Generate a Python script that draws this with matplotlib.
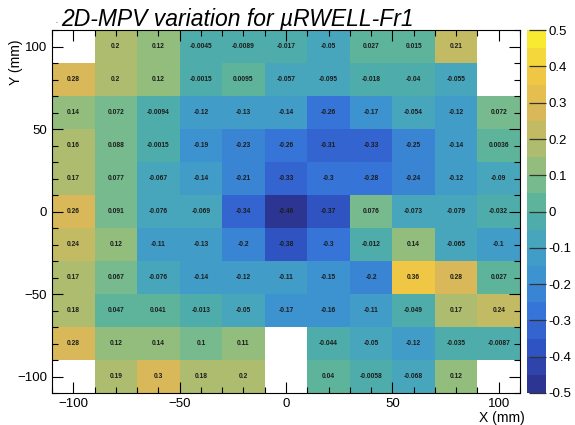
import numpy as np
import matplotlib
matplotlib.use("Agg")
import matplotlib.pyplot as plt
from matplotlib.colors import LinearSegmentedColormap, BoundaryNorm
from matplotlib.ticker import MultipleLocator

plt.rcParams["font.family"] = ["Liberation Sans", "DejaVu Sans"]

# bin centres in mm (20 mm pads)
x_centers = [-100, -80, -60, -40, -20, 0, 20, 40, 60, 80, 100]
y_centers = [100, 80, 60, 40, 20, 0, -20, -40, -60, -80, -100]

nan = np.nan
# MPV variation per pad, rows from top (y=100) to bottom (y=-100)
row_p100 = [nan, 0.2, 0.12, -0.0045, -0.0089, -0.017, -0.05, 0.027, 0.015, 0.21, nan]
row_p80 = [0.28, 0.2, 0.12, -0.0015, 0.0095, -0.057, -0.095, -0.018, -0.04, -0.055, nan]
row_p60 = [0.14, 0.072, -0.0094, -0.12, -0.13, -0.14, -0.26, -0.17, -0.054, -0.12, 0.072]
row_p40 = [0.16, 0.088, -0.0015, -0.19, -0.23, -0.26, -0.31, -0.33, -0.25, -0.14, 0.0036]
row_p20 = [0.17, 0.077, -0.067, -0.14, -0.21, -0.33, -0.3, -0.28, -0.24, -0.12, -0.09]
row_0 = [0.26, 0.091, -0.076, -0.069, -0.34, -0.46, -0.37, 0.076, -0.073, -0.079, -0.032]
row_m20 = [0.24, 0.12, -0.11, -0.13, -0.2, -0.38, -0.3, -0.012, 0.14, -0.065, -0.1]
row_m40 = [0.17, 0.067, -0.076, -0.14, -0.12, -0.11, -0.15, -0.2, 0.36, 0.28, 0.027]
row_m60 = [0.18, 0.047, 0.041, -0.013, -0.05, -0.17, -0.16, -0.11, -0.049, 0.17, 0.24]
row_m80 = [0.28, 0.12, 0.14, 0.1, 0.11, nan, -0.044, -0.05, -0.12, -0.035, -0.0087]
row_m100 = [nan, 0.19, 0.3, 0.18, 0.2, nan, 0.04, -0.0058, -0.068, 0.12, nan]

rows = [row_p100, row_p80, row_p60, row_p40, row_p20, row_0,
        row_m20, row_m40, row_m60, row_m80, row_m100]

z_min, z_max, n_levels = -0.5, 0.5, 20
cbar_ticks = [-0.5, -0.4, -0.3, -0.2, -0.1, 0.0, 0.1, 0.2, 0.3, 0.4, 0.5]
cbar_labels = ["-0.5", "-0.4", "-0.3", "-0.2", "-0.1", "0", "0.1", "0.2", "0.3", "0.4", "0.5"]

# bird-like palette, a bit softer than the stock one
palette = ["#2c3592", "#3052c2", "#3672d8", "#3c8fd2", "#46a3c2", "#52b1a2",
           "#82bd86", "#b6bc6a", "#dcb856", "#f0c844", "#f8ea30"]
cmap = LinearSegmentedColormap.from_list("bird_soft", palette)
cmap.set_bad("white")

bounds = np.linspace(z_min, z_max, n_levels + 1)
norm = BoundaryNorm(bounds, cmap.N)

z = np.array(rows)[::-1]  # bottom row first
xc = np.array(x_centers)
yc = np.array(y_centers)[::-1]
x_edges = np.append(xc - 10, xc[-1] + 10)
y_edges = np.append(yc - 10, yc[-1] + 10)

fig = plt.figure(figsize=(5.75, 4.25), dpi=100)
ax = fig.add_axes([0.0904, 0.0753, 0.8139, 0.8537])
cax = fig.add_axes([0.9165, 0.0753, 0.033, 0.8537])

mesh = ax.pcolormesh(x_edges, y_edges, np.ma.masked_invalid(z), cmap=cmap, norm=norm)

for j, y in enumerate(yc):
    for i, x in enumerate(xc):
        v = z[j, i]
        if np.isnan(v):
            continue
        ax.text(x, y, f"{v:.2g}", ha="center", va="center",
                fontsize=4.8, fontweight="bold", color="#1c1c1c")

ax.set_xlim(-110, 110)
ax.set_ylim(-110, 110)
ax.xaxis.set_major_locator(MultipleLocator(50))
ax.xaxis.set_minor_locator(MultipleLocator(10))
ax.yaxis.set_major_locator(MultipleLocator(50))
ax.yaxis.set_minor_locator(MultipleLocator(10))
ax.tick_params(which="both", direction="in", top=True, right=True, labelsize=9.5, width=0.8)
ax.tick_params(which="major", length=8)
ax.tick_params(which="minor", length=4)
for s in ax.spines.values():
    s.set_linewidth(0.8)

ax.set_xlabel("X (mm)", fontsize=10, loc="right")
ax.xaxis.set_label_coords(1.01, -0.05)
ax.set_ylabel("Y (mm)", fontsize=10, loc="top")
ax.yaxis.set_label_coords(-0.062, 0.975)

cb = fig.colorbar(mesh, cax=cax, ticks=cbar_ticks)
cb.outline.set_visible(False)
cb.ax.set_yticklabels(cbar_labels)
cb.ax.tick_params(direction="in", length=12, width=0.9, labelsize=9.5, pad=2, color="#333333")
cb.ax.minorticks_off()

fig.text(0.107, 0.938, "2D-MPV variation for \u00b5RWELL-Fr1", fontsize=16.5,
         style="italic", ha="left", va="baseline")
fig.text(0.097, 0.945, ".", fontsize=5, ha="left", va="baseline")

fig.savefig("out.png", dpi=100)
